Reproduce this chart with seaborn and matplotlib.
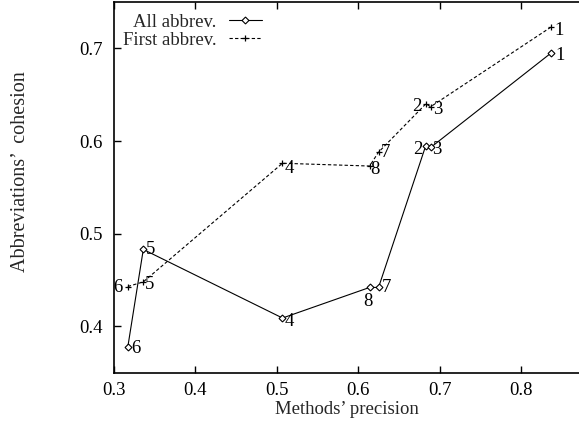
import matplotlib
matplotlib.use("Agg")
import matplotlib.pyplot as plt
import seaborn as sns
import pandas as pd

# ---- data ----
methods = ["1", "2", "3", "4", "5", "6", "7", "8"]
precision = [0.837, 0.683, 0.689, 0.507, 0.336, 0.317, 0.625, 0.614]
cohesion_all = [0.695, 0.595, 0.593, 0.409, 0.483, 0.378, 0.442, 0.442]
cohesion_first = [0.723, 0.640, 0.637, 0.576, 0.448, 0.443, 0.588, 0.573]
x_ticks = [0.3, 0.4, 0.5, 0.6, 0.7, 0.8]
y_ticks = [0.4, 0.5, 0.6, 0.7]

# ---- label placement (pixel offsets, alignment) ----
lab_all = {"1": (4, -3, "left"), "2": (-3, -4, "right"), "3": (1, -2, "left"),
           "4": (2, -3, "left"), "5": (3, 0, "left"), "6": (3.5, -2, "left"),
           "7": (3, 0, "left"), "8": (-2, -14, "center")}
lab_first = {"1": (3, -3, "left"), "2": (-4, -3, "right"), "3": (2, -3, "left"),
             "4": (2, -5, "left"), "5": (2, -3, "left"), "6": (-5, -1, "right"),
             "7": (2, 0, "left"), "8": (1, -3, "left")}

FS = 13.5

sns.set_style("ticks")
plt.rcParams["font.family"] = ["Liberation Serif", "DejaVu Serif"]

df = pd.DataFrame({"method": methods, "precision": precision,
                   "all": cohesion_all, "first": cohesion_first})

fig = plt.figure(figsize=(5.79, 4.21), dpi=100)
ax = fig.add_axes([114 / 579, 1 - 372.7 / 421, 1 - 114 / 579, (372.7 - 2) / 421])

sns.lineplot(data=df, x="precision", y="all", ax=ax, sort=True, estimator=None,
             color="black", lw=0.8, marker="D", markersize=3.5,
             markerfacecolor="white", markeredgecolor="black", markeredgewidth=0.8,
             label="All abbrev.")
sns.lineplot(data=df, x="precision", y="first", ax=ax, sort=True, estimator=None,
             color="black", lw=0.8, marker="+", markersize=5,
             markeredgecolor="black", markeredgewidth=0.9,
             label="First abbrev.")
ax.lines[1].set_dashes((3, 2))

for m, xv, yv in zip(methods, precision, cohesion_all):
    dx, dy, ha = lab_all[m]
    ax.annotate(m, (xv, yv), xytext=(dx, dy), textcoords="offset pixels",
                ha=ha, va="center", fontsize=FS, color="black")
for m, xv, yv in zip(methods, precision, cohesion_first):
    dx, dy, ha = lab_first[m]
    ax.annotate(m, (xv, yv), xytext=(dx, dy), textcoords="offset pixels",
                ha=ha, va="center", fontsize=FS, color="black")

ax.set_xlim(0.3, 0.3 + 465 / 814)
ax.set_ylim(0.35, 0.75)
ax.set_xticks(x_ticks)
ax.set_yticks(y_ticks)
ax.set_xticklabels([f"{t:.1f}" for t in x_ticks])
ax.set_yticklabels([f"{t:.1f}" for t in y_ticks])
ax.tick_params(direction="in", length=5, width=1, top=True, right=False,
               labelsize=FS, colors="black", pad=8)
ax.tick_params(axis="x", pad=7)
for s in ["left", "bottom", "top"]:
    ax.spines[s].set_linewidth(1.2)
    ax.spines[s].set_color("black")
ax.spines["right"].set_visible(False)

ax.set_xlabel("Methods\u2019 precision", fontsize=FS, labelpad=0)
ax.set_ylabel("Abbreviations\u2019  cohesion", fontsize=14.5, labelpad=0)
ax.xaxis.set_label_coords(0.5, -0.077)
ax.yaxis.set_label_coords(-(114 - 21) / 464, (372.7 - 171.5) / 370.7)
ax.yaxis.label.set_va("center")
ax.xaxis.label.set_va("top")

leg = ax.legend(loc="upper right", bbox_to_anchor=((262 - 114) / 464, (372.7 - 13.5) / 370.7),
                markerfirst=False, frameon=False, handlelength=1.8, fontsize=FS,
                borderpad=0, borderaxespad=0, labelspacing=0.05, handletextpad=0.65)

fig.savefig("out.png", dpi=100)
